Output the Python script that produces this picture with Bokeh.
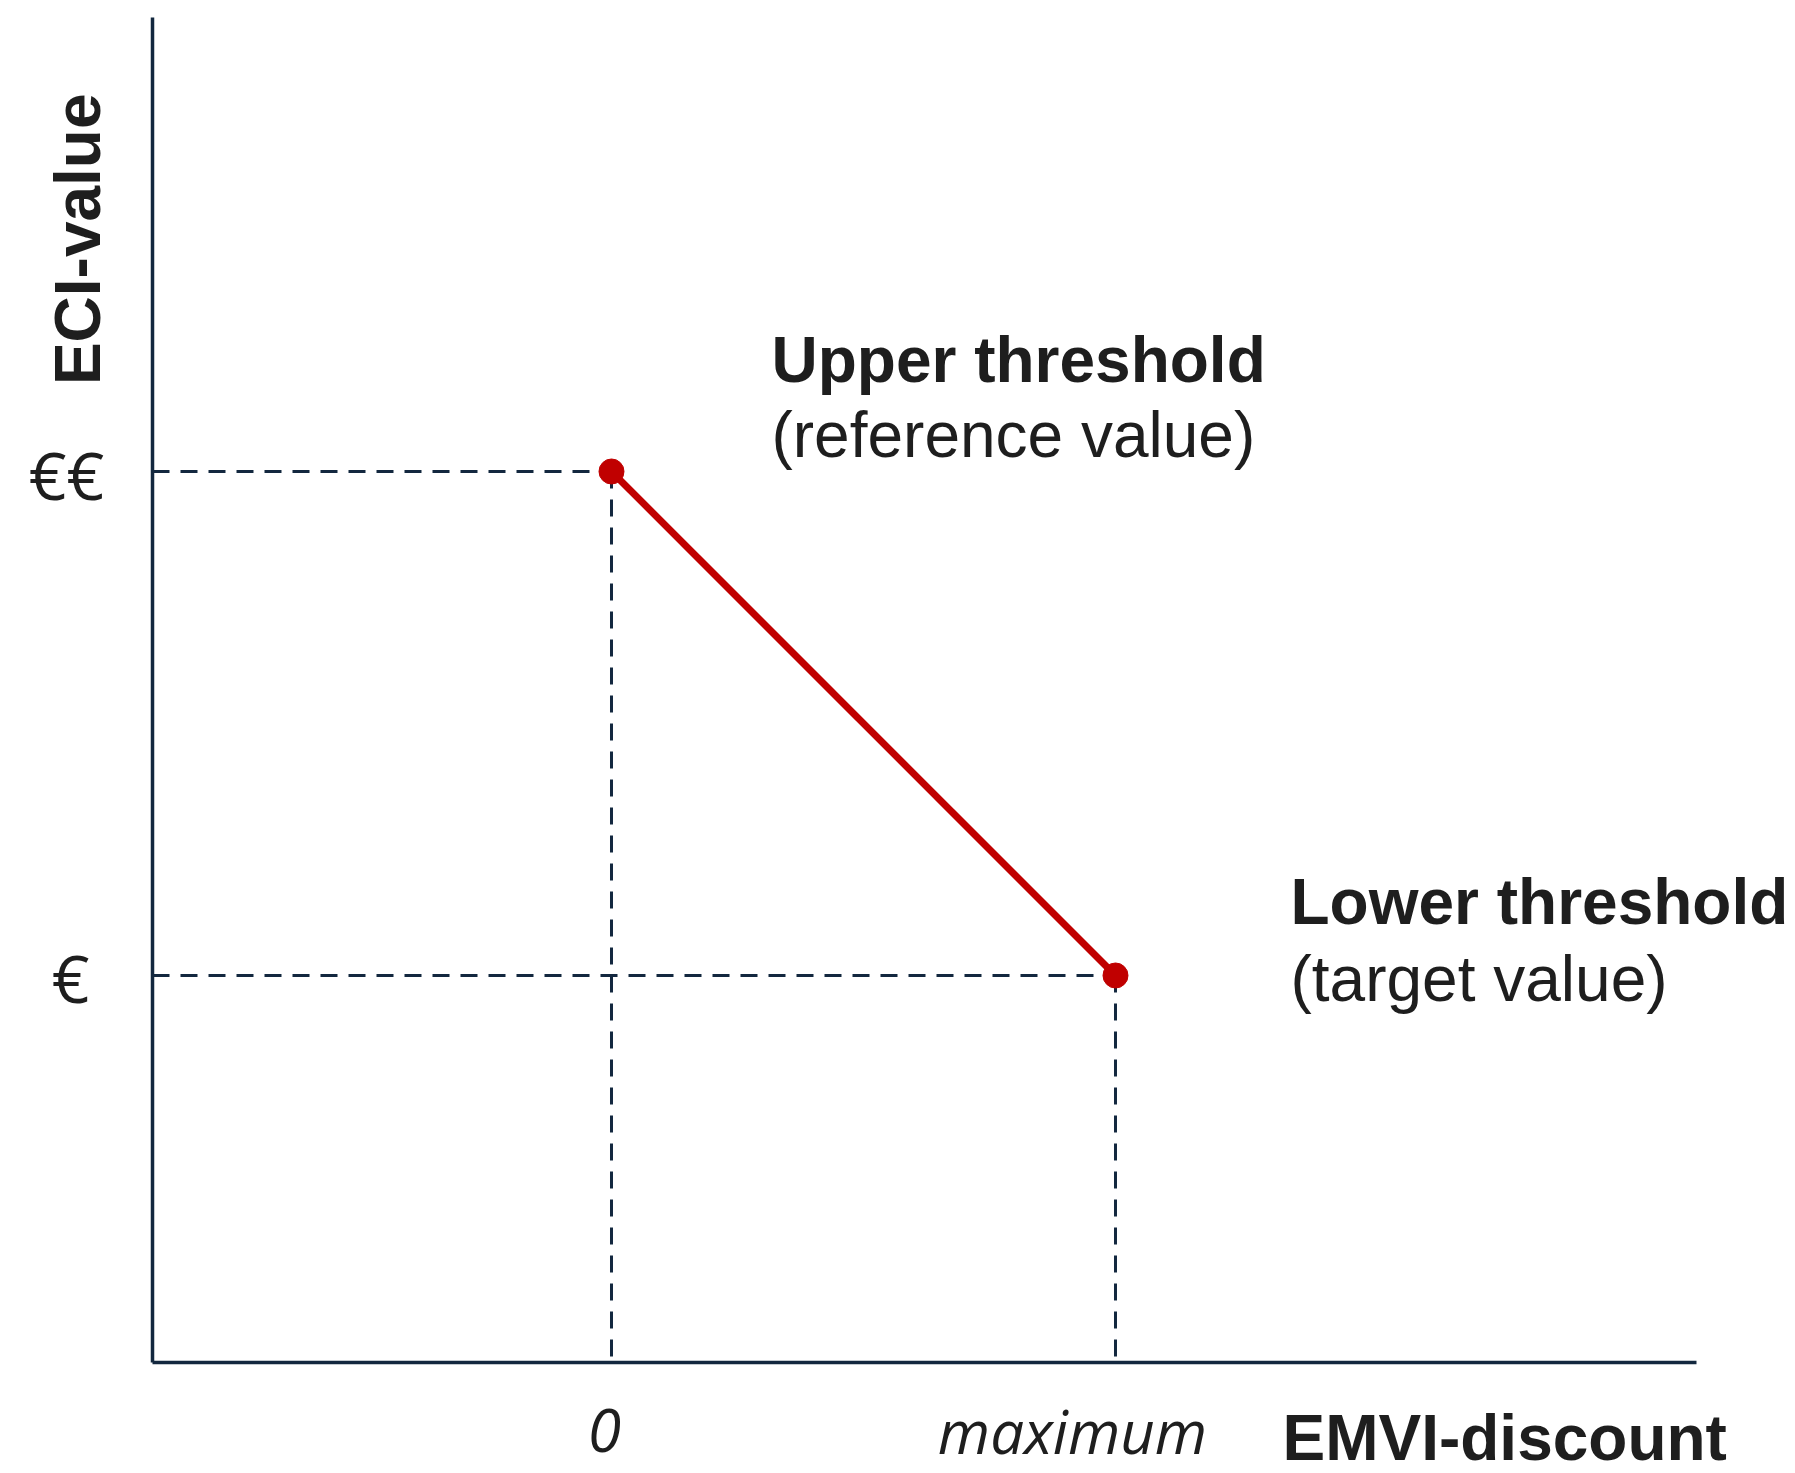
import math
from bokeh.plotting import figure
from bokeh.models import Range1d, Label
from bokeh.embed import file_html
from bokeh.resources import INLINE

# ---- data ----
discount = [0.0, 1.0]            # EMVI-discount: 0 .. maximum
eci_value = [2.0, 1.0]           # ECI-value: upper threshold (€€) .. lower threshold (€)
x_tick_labels = ["0", "maximum"]
y_tick_labels = ["€€", "€"]
point_titles = ["Upper threshold", "Lower threshold"]
point_subtitles = ["(reference value)", "(target value)"]
x_title = "EMVI-discount"
y_title = "ECI-value"

NAVY = "#13283f"
RED = "#c00000"
TEXT = "#1e1e1e"

# axis extents (data units)
X_AXIS_START, X_AXIS_END = -0.91071, 2.15278
Y_AXIS_START, Y_AXIS_END = 0.23214, 2.90079

p = figure(width=1795, height=1473, output_backend="svg", toolbar_location=None,
           x_range=Range1d(-1.21230, 2.34921), y_range=Range1d(0.01190, 2.93452),
           x_axis_location=None, y_axis_location=None,
           min_border=0)
p.grid.visible = False
p.outline_line_color = None
p.background_fill_color = "white"
p.border_fill_color = "white"

# axis lines
p.segment(x0=[X_AXIS_START, X_AXIS_START], y0=[Y_AXIS_START, Y_AXIS_START],
          x1=[X_AXIS_START, X_AXIS_END], y1=[Y_AXIS_END, Y_AXIS_START],
          line_color=NAVY, line_width=3.5)

# dashed guide lines
p.segment(x0=[X_AXIS_START] * len(discount), y0=eci_value, x1=discount, y1=eci_value,
          line_color=NAVY, line_width=3, line_dash="17 11")
p.segment(x0=discount, y0=eci_value, x1=discount, y1=[Y_AXIS_START] * len(discount),
          line_color=NAVY, line_width=3, line_dash="17 11")

# red line and points
p.line(discount, eci_value, line_color=RED, line_width=7)
p.scatter(discount, eci_value, size=25, fill_color=RED, line_color=RED)

def lab(x, y, text, **kw):
    base = dict(text_font="Liberation Sans", text_font_size="64px", text_color=TEXT,
                text_align="left", text_baseline="alphabetic")
    base.update(kw)
    p.add_layout(Label(x=x, y=y, text=text, **base))

# annotations near points
lab(0.31746, 2.2203, point_titles[0], text_font_style="bold")
lab(0.31746, 2.0715, point_subtitles[0])
lab(1.34722, 1.1449, point_titles[1], text_font_style="bold")
lab(1.34722, 0.9921, point_subtitles[1])

# axis titles
lab(1.33135, 0.0833, x_title, text_font_style="bold")
lab(-1.0576, 2.1714, y_title, text_font_style="bold", angle=math.pi / 2)

# tick labels
lab(-0.01389, 0.0972, x_tick_labels[0], text_font="Open Sans", text_font_style="italic",
    text_font_size="60px", text_align="center")
lab(0.91468, 0.0972, x_tick_labels[1], text_font="Open Sans", text_font_style="italic",
    text_font_size="60px", text_align="center")
lab(-1.08135, 1.996, y_tick_labels[0], text_font="Open Sans", text_font_size="66px",
    text_align="center", text_baseline="middle")
lab(-1.07341, 0.998, y_tick_labels[1], text_font="Open Sans", text_font_size="66px",
    text_align="center", text_baseline="middle")

open("out.html", "w").write(file_html(p, INLINE))
